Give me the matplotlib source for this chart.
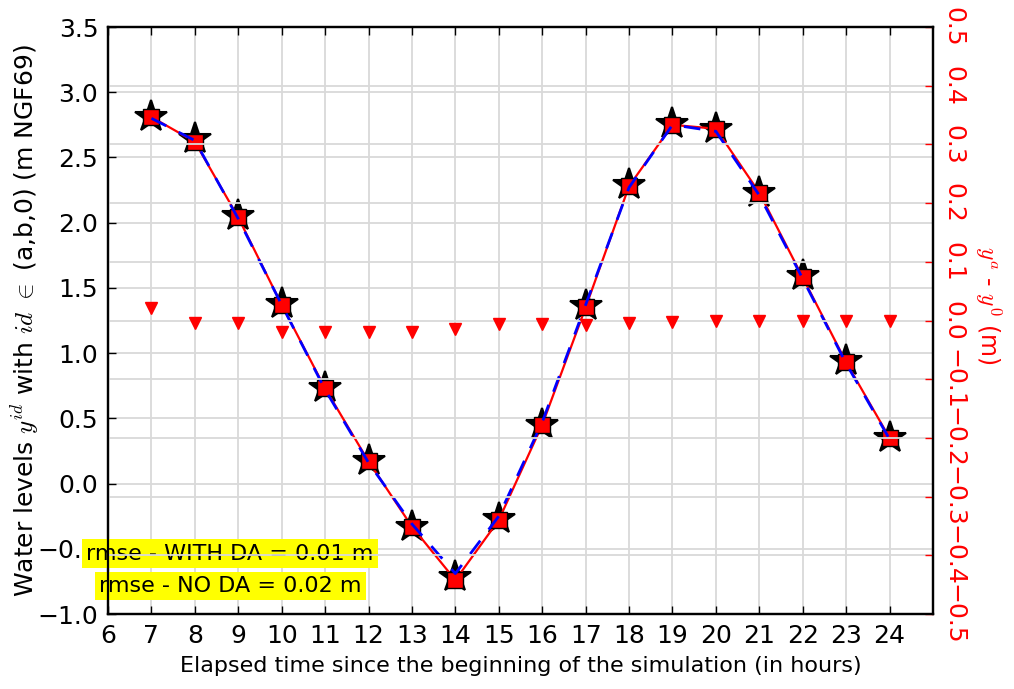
import matplotlib
matplotlib.use("Agg")
import matplotlib.pyplot as plt
import numpy as np

plt.rcParams['font.family'] = ['DejaVu Sans']
plt.rcParams['mathtext.fontset'] = 'cm'

hours = [7, 8, 9, 10, 11, 12, 13, 14, 15, 16, 17, 18, 19, 20, 21, 22, 23, 24]
obs = [2.81, 2.64, 2.05, 1.38, 0.73, 0.17, -0.33, -0.72, -0.27, 0.45, 1.36, 2.29, 2.76, 2.72, 2.23, 1.59, 0.94, 0.35]
no_da = [2.80, 2.63, 2.03, 1.37, 0.72, 0.16, -0.31, -0.69, -0.25, 0.47, 1.37, 2.27, 2.75, 2.70, 2.21, 1.57, 0.92, 0.34]
with_da = [2.81, 2.62, 2.04, 1.37, 0.73, 0.17, -0.33, -0.74, -0.28, 0.45, 1.35, 2.28, 2.75, 2.72, 2.23, 1.58, 0.93, 0.35]
diff = [0.022, -0.004, -0.004, -0.020, -0.019, -0.019, -0.019, -0.014, -0.006, -0.006, -0.008, -0.004, -0.002, 0.0, 0.0, 0.0, 0.0, 0.0]

xticks = list(range(6, 25))
yticks_left = [-1.0, -0.5, 0.0, 0.5, 1.0, 1.5, 2.0, 2.5, 3.0, 3.5]
yticks_right = [-0.5, -0.4, -0.3, -0.2, -0.1, 0.0, 0.1, 0.2, 0.3, 0.4, 0.5]
rmse_with = "rmse - WITH DA = 0.01 m"
rmse_no = "rmse - NO DA = 0.02 m"

fig = plt.figure(figsize=(10.14, 6.89), dpi=100)
ax = fig.add_axes([108/1014, 1-614/689, (933-108)/1014, (614-27)/689])
ax2 = ax.twinx()

gridc = '#d9d9d9'
ax.grid(True, color=gridc, linewidth=1.3, linestyle='-')
ax.set_axisbelow(True)
ax2.grid(True, color=gridc, linewidth=1.3, linestyle='-')
ax2.set_axisbelow(True)

ax.plot(hours, obs, linestyle='none', marker='*', color='black', markersize=24,
        markeredgecolor='black', markeredgewidth=1.5, zorder=3)
ax.plot(hours, with_da, color='red', linestyle='-', linewidth=1.6, marker='s',
        markersize=11, markerfacecolor='red', markeredgecolor='black', markeredgewidth=1, zorder=4)
ax.plot(hours, no_da, color='blue', linestyle='--', linewidth=2, dashes=(6, 5), zorder=5)

ax2.plot(hours, diff, linestyle='none', marker='v', color='red', markersize=8,
         markeredgecolor='red')

ax.set_xlim(6, 25)
ax.set_ylim(-1.0, 3.5)
ax2.set_ylim(-0.5, 0.5)
ax.set_xticks(xticks)
ax.set_yticks(yticks_left)
ax.set_yticklabels([f"{v:.1f}".replace('-', '\u2212') for v in yticks_left])
ax2.set_yticks(yticks_right)
ax2.set_yticklabels([f"{v:.1f}".replace('-', '\u2212') for v in yticks_right],
                    rotation=270, va='center', color='red')

ax.tick_params(axis='both', direction='in', labelsize=18, length=6, width=1,
               top=True, pad=7)
ax.tick_params(axis='y', right=False)
ax2.tick_params(axis='y', direction='in', labelsize=18, length=6, width=1,
                colors='red', pad=6)

for sp in ax.spines.values():
    sp.set_linewidth(1.6)
for sp in ax2.spines.values():
    sp.set_linewidth(1.6)

ax.set_xlabel("Elapsed time since the beginning of the simulation (in hours)", fontsize=16, labelpad=6)
ax.set_ylabel(r"Water levels $y^{id}$ with $id$ $\in$ (a,b,0) (m NGF69)", fontsize=18)
ax.yaxis.set_label_coords(-0.08, 0.50)
ax2.set_ylabel(r"$y^{a}$ - $y^{0}$ (m)", fontsize=17, color='red', rotation=270)
ax2.yaxis.set_label_coords(1.085, 0.526)

ax.text(0.148, 0.103, rmse_with, transform=ax.transAxes, ha='center', va='center',
        fontsize=16, zorder=10, bbox=dict(facecolor='yellow', edgecolor='none', pad=3))
ax.text(0.148, 0.048, rmse_no, transform=ax.transAxes, ha='center', va='center',
        fontsize=16, zorder=10, bbox=dict(facecolor='yellow', edgecolor='none', pad=3))

fig.savefig("out.png", dpi=100)
